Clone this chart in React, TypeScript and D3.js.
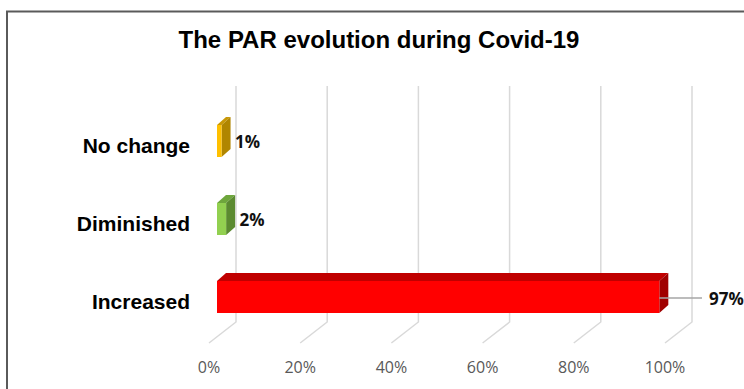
import React from "react";
import * as d3 from "d3";

// Chart data
const categories = ["No change", "Diminished", "Increased"];
const values = [1, 2, 97];
const valueLabels = ["1%", "2%", "97%"];
const tickValues = [0, 20, 40, 60, 80, 100];
const tickLabels = ["0%", "20%", "40%", "60%", "80%", "100%"];
const title = "The PAR evolution during Covid-19";

// Face colours per bar: front, top, side
const barColors = [
  { front: "#FFC000", top: "#C89806", side: "#B08600" },
  { front: "#92D050", top: "#6EA63C", side: "#5B8A30" },
  { front: "#FF0000", top: "#C00000", side: "#A00000" },
];

const W = 744;
const H = 389;

export default function App() {
  // Floor front edge scale and the bars' front plane scale
  const floorX = d3.scaleLinear().domain([0, 100]).range([209, 665]);
  const barX = d3.scaleLinear().domain([0, 100]).range([217, 673]);
  const yCenter = d3.scalePoint<string>().domain(categories).range([141, 297]);

  const floorFrontY = 343;
  const floorBackY = 322;
  const floorDx = 27;
  const gridTop = 86;
  const barH = 32;
  const depthDx = 9;
  const depthDy = -8;

  const font = "'Liberation Sans', Arial, sans-serif";
  const labelFont = "'Open Sans', 'Noto Sans', sans-serif";

  return (
    <div style={{ position: "absolute", left: 0, top: 0, width: W, height: H, background: "#fff" }}>
      <svg width={W} height={H} style={{ display: "block" }}>
        <rect x={0} y={0} width={W} height={H} fill="#fff" />
        <rect x={7} y={11.5} width={900} height={600} fill="none" stroke="#5a5a5a" strokeWidth={2} />

        <text x={379} y={48} textAnchor="middle" fontFamily={font} fontWeight="bold" fontSize={24} fill="#000">
          {title}
        </text>

        {/* back-wall gridlines with their floor diagonals */}
        {tickValues.map((t) => {
          const fx = floorX(t);
          const bx = fx + floorDx;
          return (
            <path
              key={t}
              d={`M${bx},${gridTop} L${bx},${floorBackY} L${fx},${floorFrontY}`}
              fill="none"
              stroke="#d9d9d9"
              strokeWidth={1.5}
            />
          );
        })}

        {tickValues.map((t, i) => (
          <text
            key={t}
            x={floorX(t)}
            y={373}
            textAnchor="middle"
            fontFamily={labelFont}
            fontSize={16}
            fill="#595959"
          >
            {tickLabels[i]}
          </text>
        ))}

        {categories.map((c, i) => {
          const cy = yCenter(c) as number;
          const x0 = barX(0);
          const x1 = barX(values[i]);
          const y0 = cy - barH / 2;
          const y1 = cy + barH / 2;
          const col = barColors[i];
          const top = `M${x0},${y0} L${x0 + depthDx},${y0 + depthDy} L${x1 + depthDx},${y0 + depthDy} L${x1},${y0} Z`;
          const side = `M${x1},${y0} L${x1 + depthDx},${y0 + depthDy} L${x1 + depthDx},${y1 + depthDy} L${x1},${y1} Z`;
          const isLong = values[i] > 50;
          return (
            <g key={c}>
              <text
                x={190}
                y={cy + 12}
                textAnchor="end"
                fontFamily={font}
                fontWeight="bold"
                fontSize={21}
                fill="#000"
              >
                {c}
              </text>
              <path d={top} fill={col.top} />
              <path d={side} fill={col.side} />
              <rect x={x0} y={y0} width={x1 - x0} height={barH} fill={col.front} />
              {isLong ? (
                <g>
                  <line x1={x1} y1={cy + 1} x2={702} y2={cy + 1} stroke="#a6a6a6" strokeWidth={1.5} />
                  <text x={709} y={cy + 8} fontFamily={labelFont} fontWeight="bold" fontSize={17} fill="#111">
                    {valueLabels[i]}
                  </text>
                </g>
              ) : (
                <text
                  x={x1 + depthDx + 4.5}
                  y={cy + 7}
                  fontFamily={labelFont}
                  fontWeight="bold"
                  fontSize={17}
                  fill="#111"
                >
                  {valueLabels[i]}
                </text>
              )}
            </g>
          );
        })}
      </svg>
    </div>
  );
}
